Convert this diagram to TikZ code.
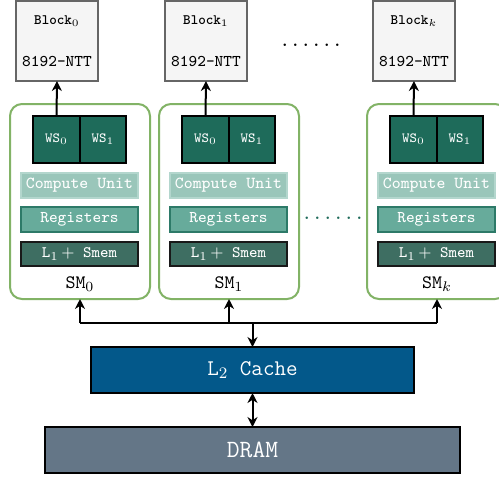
\documentclass[tikz,border=0pt]{standalone}
\usetikzlibrary{arrows.meta}
\definecolor{blkfill}{HTML}{F5F5F5}
\definecolor{blkdraw}{HTML}{666666}
\definecolor{smgreen}{HTML}{82B366}
\definecolor{wsfill}{HTML}{1E6B5A}
\definecolor{cufill}{HTML}{9AC6BA}
\definecolor{cudraw}{HTML}{B3D6CD}
\definecolor{regfill}{HTML}{67AB9B}
\definecolor{regdraw}{HTML}{2D7A68}
\definecolor{lonefill}{HTML}{3E6E62}
\definecolor{ltwofill}{HTML}{03588A}
\definecolor{dramfill}{HTML}{647687}
\newcommand\bx[7]{%
  \pgfmathsetmacro\cxx{((#2)+(#4))/2}\pgfmathsetmacro\cyy{((#3)+(#5))/2}%
  \pgfmathsetmacro\ww{((#4)-(#2))*0.5}\pgfmathsetmacro\hh{((#5)-(#3))*0.5}%
  \node[#6, minimum width=\ww pt, minimum height=\hh pt, inner sep=0pt, outer sep=0pt] (#1) at (\cxx,\cyy) {#7};}
\tikzset{
  blockbox/.style={draw=blkdraw, fill=blkfill, line width=1pt, align=center, font=\ttfamily},
  smbox/.style={draw=smgreen, line width=1pt, rounded corners=6pt},
  wsbox/.style={draw=black, fill=wsfill, line width=1pt, text=white, font=\ttfamily\fontsize{7}{8}\selectfont},
  cubox/.style={draw=cudraw, fill=cufill, line width=1pt, text=white, font=\ttfamily\fontsize{8.4}{10}\selectfont},
  regbox/.style={draw=regdraw, fill=regfill, line width=1pt, text=white, font=\ttfamily\fontsize{8.2}{10}\selectfont},
  lonebox/.style={draw=black!90, fill=lonefill, line width=1pt, text=white, font=\ttfamily\fontsize{8}{10}\selectfont},
  smlabel/.style={font=\ttfamily\fontsize{9.5}{11}\selectfont, inner sep=0pt},
  ltwobox/.style={draw=black, fill=ltwofill, line width=1pt, text=white, font=\ttfamily\fontsize{11.2}{13}\selectfont},
  drambox/.style={draw=black, fill=dramfill, line width=1pt, text=white, font=\ttfamily\fontsize{12.4}{14}\selectfont},
  arr/.style={line width=1pt, -{Stealth[length=5pt,width=5pt]}},
  darr/.style={line width=1pt, {Stealth[length=5pt,width=5pt]}-{Stealth[length=5pt,width=5pt]}},
  bus/.style={line width=1pt},
  dotsl/.style={font=\ttfamily\fontsize{10}{12}\selectfont, inner sep=0pt}
}
\begin{document}
\begin{tikzpicture}[x=0.5pt,y=-0.5pt]
\useasboundingbox (0,0) rectangle (499,479);
\clip (0,0) rectangle (499,479);
\fill[white] (0,0) rectangle (499,479);
\foreach \L/\n/\s in {10/0/0,159/1/1,367/k/k}{
  % SM container
  \bx{sm\n}{\L}{104}{\L+140}{299}{smbox}{}
  \bx{wsa\n}{\L+23}{116}{\L+70}{163}{wsbox}{WS$_0$}
  \bx{wsb\n}{\L+70}{116}{\L+116}{163}{wsbox}{WS$_1$}
  \bx{cu\n}{\L+11}{173}{\L+128}{198}{cubox}{Compute Unit}
  \bx{reg\n}{\L+11}{207}{\L+128}{232}{regbox}{Registers}
  \bx{lone\n}{\L+11}{242}{\L+128}{266}{lonebox}{L$_1\,+$ Smem}
  \node[smlabel] (sml\n) at (\L+70,284) {SM$_{\s}$};
  \bx{blk\n}{\L+6}{1}{\L+88}{81}{blockbox}{{\bfseries\fontsize{7.2}{8}\selectfont Block$_{\s}$}\\[9pt]{\fontsize{8.2}{10}\selectfont 8192-NTT}}
  \draw[arr] (wsa\n.north) -- (blk\n.south);
}
\node[dotsl] (topdots) at (311,45) {......};
\node[dotsl, text=wsfill] (middots) at (333,218) {......};
\bx{ltwo}{91}{347}{414}{393}{ltwobox}{L$_2$ Cache}
\bx{dram}{45}{427}{460}{473}{drambox}{DRAM}
\coordinate (busy) at (0,323);
\draw[bus] (sm0.south |- busy) -- (smk.south |- busy);
\draw[arr] (sm0.south |- busy) -- (sm0.south);
\draw[arr] (sm1.south |- busy) -- (sm1.south);
\draw[arr] (smk.south |- busy) -- (smk.south);
\draw[arr] (ltwo.north |- busy) -- (ltwo.north);
\draw[darr] (ltwo.south) -- (dram.north);
\end{tikzpicture}
\end{document}
